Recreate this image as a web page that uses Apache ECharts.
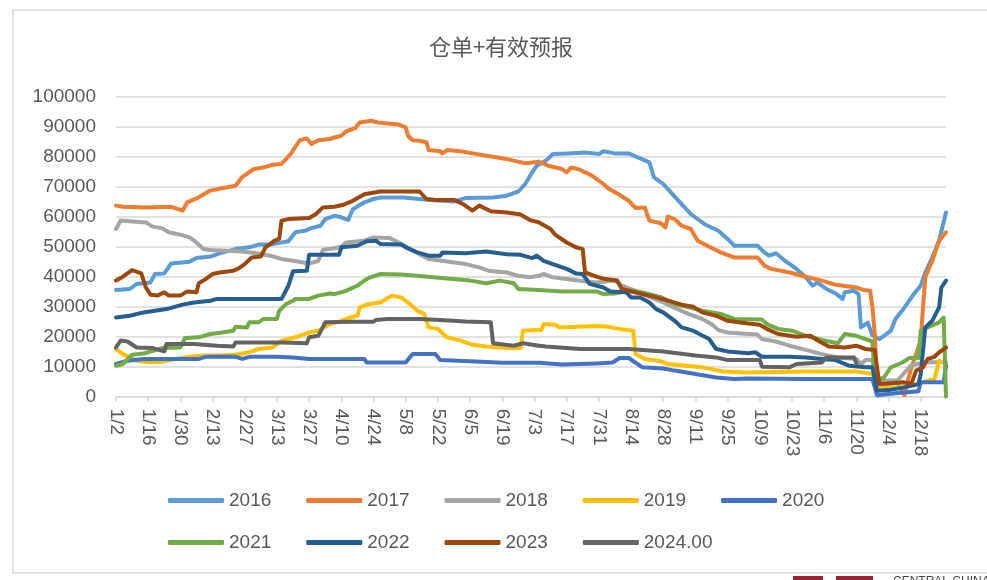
<!DOCTYPE html>
<html>
<head>
<meta charset="utf-8">
<script src="https://cdn.jsdelivr.net/npm/echarts@6/dist/echarts.min.js"></script>
<style>html,body{margin:0;padding:0;background:#fff;}#c{width:987px;height:580px;}</style>
</head>
<body>
<div id="c"></div>
<script>
// x categories: calendar days 1/2 .. 12/29; data points are [dayIndex, value]
const categories = [];
for (let t = Date.UTC(2023, 0, 2); t <= Date.UTC(2023, 11, 29); t += 86400000) {
  const d = new Date(t);
  categories.push((d.getUTCMonth() + 1) + '/' + d.getUTCDate());
}
const seriesNames = ['2016','2017','2018','2019','2020','2021','2022','2023','2024.00'];
const colors = ['#5B9BD5','#ED7D31','#A5A5A5','#FFC000','#4472C4','#70AD47','#255E91','#9E480E','#636363'];
const yTicks = { min: 0, max: 100000, interval: 10000 };

const s2016 = [[0,35600],[6,35900],[9,37600],[15,38100],[17,40900],[21,41100],[24,44400],[32,45000],[35,46200],[41,46700],[45,47800],[52,49200],[58,49800],[62,50700],[67,50700],[70,51100],[75,51800],[78,54800],[82,55300],[85,56200],[89,57000],[91,59200],[95,60300],[98,59800],[101,58900],[103,62500],[108,64800],[112,65900],[115,66400],[125,66400],[132,65900],[137,65600],[147,65100],[152,66200],[164,66400],[170,67000],[175,68400],[178,70900],[181,74800],[183,77000],[187,78700],[190,80900],[197,81100],[204,81400],[210,80900],[212,81800],[217,81100],[223,81100],[227,79800],[232,78100],[234,73100],[238,70900],[242,67500],[246,64200],[250,60900],[256,57500],[262,55300],[266,52600],[269,50300],[279,50300],[282,48100],[284,47000],[287,47800],[291,45300],[296,42600],[300,39800],[303,37000],[305,38100],[309,35900],[313,34400],[316,32600],[317,34800],[321,35300],[323,34200],[324,23100],[327,24700],[329,20500],[332,19200],[334,20300],[337,22000],[339,25900],[342,28700],[345,32000],[347,34200],[350,37000],[352,41400],[355,46400],[358,52000],[361,61400]];
const s2017 = [[0,63700],[3,63300],[13,63100],[24,63300],[29,62000],[31,64800],[35,66100],[41,68700],[46,69500],[52,70300],[55,73300],[60,75900],[64,76400],[68,77300],[72,77600],[76,80900],[78,83300],[80,85500],[83,86100],[85,84200],[88,85500],[93,85900],[95,86400],[98,87000],[100,88400],[104,89500],[106,91400],[111,92000],[114,91400],[118,91100],[123,90700],[126,89800],[127,87000],[129,85500],[132,85300],[135,84800],[136,82200],[141,81800],[142,81100],[144,82200],[150,81800],[155,81100],[161,80300],[170,79200],[178,77800],[184,78300],[188,77000],[194,75900],[196,74800],[198,76400],[201,75900],[207,73700],[212,70900],[214,69500],[219,67300],[223,65300],[226,62900],[230,63100],[232,58700],[237,57800],[239,56400],[240,60000],[243,59200],[246,57000],[250,55900],[253,52000],[258,50000],[263,48100],[269,46400],[279,46400],[282,43700],[285,42600],[293,41400],[300,40000],[307,38700],[313,37300],[322,36400],[325,35600],[328,35300],[329,29800],[330,20900],[331,5000],[340,4500],[343,500],[344,4200],[346,9800],[350,18700],[351,29800],[352,39800],[355,45300],[358,52000],[361,54800]];
const s2018 = [[0,55900],[2,58700],[13,58100],[16,56700],[20,56200],[23,54800],[28,54000],[32,53100],[35,51400],[38,49200],[41,48900],[55,48400],[61,47800],[67,47000],[72,45900],[77,45300],[84,44400],[88,45300],[90,49000],[95,49500],[98,50000],[100,51400],[108,52000],[112,53100],[119,52900],[123,51400],[128,49200],[132,47500],[136,45900],[144,45100],[152,44200],[158,43100],[162,42000],[170,41400],[175,40300],[180,39800],[184,40300],[186,40900],[190,39800],[196,39200],[201,38700],[209,38100],[217,38700],[220,37000],[226,35300],[232,33300],[238,31400],[243,29600],[249,27600],[255,25900],[259,24200],[262,22200],[266,21400],[275,20900],[279,20700],[281,19200],[287,18400],[293,17000],[300,15600],[307,14200],[314,13100],[322,12600],[324,10900],[326,12200],[329,12200],[331,5200],[340,5500],[343,8000],[346,10500],[352,11500],[361,11500]];
const s2019 = [[0,15900],[3,14200],[9,12000],[15,11500],[20,11600],[26,12600],[32,13300],[38,13700],[45,13700],[52,14000],[58,14800],[62,15900],[68,16400],[72,18700],[78,19800],[84,21400],[88,22000],[93,24200],[98,25300],[102,26400],[105,27000],[106,29800],[110,30900],[115,31400],[120,33700],[124,33100],[127,31400],[131,28700],[134,27600],[136,23100],[140,22600],[144,19800],[150,18700],[155,17300],[161,16700],[170,16200],[176,16200],[177,22000],[182,22200],[185,22200],[186,24200],[191,24000],[193,23100],[201,23300],[209,23600],[214,23300],[219,22600],[225,22000],[226,14200],[230,12600],[236,12000],[240,10900],[248,10300],[255,9800],[259,9200],[264,8400],[275,8100],[300,8400],[322,8400],[329,7600],[331,3500],[340,3000],[350,4500],[356,6000],[358,12000],[359,11600]];
const s2020 = [[0,10900],[5,12000],[12,12600],[36,12600],[39,13300],[52,13300],[55,12600],[58,13300],[70,13300],[77,13100],[84,12600],[108,12600],[109,11400],[126,11400],[129,14200],[139,14200],[141,12200],[154,11800],[168,11300],[184,11300],[194,10700],[209,11100],[216,11400],[219,12900],[223,12900],[229,9800],[238,9400],[243,8700],[252,7600],[261,6400],[269,5900],[275,6100],[300,5900],[329,5900],[331,500],[340,1200],[349,1800],[350,4800],[360,4800],[361,10500]];
const s2021 = [[0,10300],[3,10900],[7,14000],[12,14400],[20,16200],[28,16400],[30,19600],[36,19800],[41,20900],[46,21400],[51,22000],[52,23300],[57,23100],[58,24800],[62,24800],[64,25900],[70,25900],[71,28700],[74,30900],[77,32000],[78,32600],[84,32600],[88,33700],[93,34400],[95,34200],[100,35300],[105,37000],[108,38700],[110,39600],[115,40900],[124,40700],[132,40200],[144,39400],[154,38700],[161,37800],[167,38700],[173,37800],[175,35900],[184,35600],[194,35100],[209,35100],[212,34200],[217,34400],[224,35500],[230,34600],[237,33200],[243,30900],[255,28700],[263,27600],[269,25900],[281,25700],[283,24200],[288,22600],[294,22000],[300,20300],[307,18900],[314,17800],[317,20900],[322,20300],[326,19200],[329,18400],[330,5300],[334,6400],[337,9800],[342,11400],[345,12900],[349,12900],[350,22000],[353,23100],[358,24800],[360,26400],[361,0]];
const s2022 = [[0,26400],[6,27000],[12,28100],[22,29200],[29,30700],[34,31400],[41,32000],[44,32600],[72,32600],[75,37000],[77,41800],[83,42000],[84,47300],[97,47300],[98,49800],[105,50300],[109,51800],[113,52000],[115,50900],[124,50700],[126,49800],[131,48100],[136,47000],[141,47000],[142,48100],[152,47800],[161,48400],[170,47500],[176,47300],[181,46200],[183,47000],[186,45300],[190,44200],[196,42600],[200,41100],[203,40900],[206,37600],[212,36400],[215,35100],[222,34800],[224,33100],[228,33100],[232,31400],[235,29200],[238,28100],[243,25300],[246,23100],[251,22000],[258,19200],[261,15900],[266,15100],[275,14500],[278,14800],[281,13300],[293,13300],[300,13100],[307,12600],[313,12200],[319,10300],[326,9800],[329,9800],[331,2000],[336,2200],[343,3100],[349,4200],[350,7600],[352,23100],[355,25300],[358,29800],[359,36400],[361,38700]];
const s2023 = [[0,38700],[3,40000],[7,42200],[11,41100],[13,36400],[15,34000],[18,33700],[21,34800],[23,33700],[28,33700],[31,35100],[35,34800],[36,37800],[39,39200],[42,40900],[45,41400],[51,42000],[53,42600],[56,44200],[59,46400],[63,46700],[65,49800],[69,52000],[71,52600],[72,58700],[75,59200],[84,59600],[87,60900],[90,63100],[95,63300],[99,64000],[103,65300],[108,67500],[115,68400],[132,68400],[135,65900],[139,65600],[147,65600],[151,64200],[155,62000],[158,63700],[163,61800],[170,61400],[176,60700],[180,58900],[184,58100],[189,55900],[191,54000],[196,51400],[200,49800],[203,49200],[204,41400],[209,40000],[213,39200],[218,38700],[220,35900],[223,35300],[229,34200],[235,33100],[240,32000],[246,30700],[251,30000],[255,28100],[261,27000],[266,25300],[275,24400],[280,24000],[283,22600],[288,20900],[296,20000],[302,20300],[306,18400],[310,16700],[317,16400],[322,17000],[326,15900],[330,15600],[332,4200],[336,4400],[342,4800],[346,4400],[348,8700],[351,9800],[353,12600],[356,13300],[358,14800],[361,16400]];
const s2024 = [[0,16400],[2,18700],[5,18400],[9,16400],[16,16200],[21,15100],[22,17600],[34,17600],[44,17000],[51,16700],[52,18100],[72,18100],[83,17800],[84,19800],[88,20300],[91,24800],[102,25000],[112,25000],[113,25600],[118,25900],[132,25900],[141,25600],[152,25100],[163,24800],[164,17800],[173,17000],[177,17800],[184,17000],[187,16700],[202,15900],[223,15900],[238,15100],[252,13700],[261,13100],[266,12200],[280,12200],[281,10000],[293,9800],[296,10900],[307,11400],[309,13100],[321,13100],[322,11100]];
const seriesValues = [s2016, s2017, s2018, s2019, s2020, s2021, s2022, s2023, s2024];

const FONT = '"Liberation Sans", Arial, sans-serif';
const TXT = '#595959';
const chart = echarts.init(document.getElementById('c'), null, { renderer: 'canvas' });
const legendBase = {
  orient: 'horizontal', left: 168, itemWidth: 56, itemHeight: 5, icon: 'roundRect',
  itemGap: 35, itemTextGap: 3, padding: 0,
  textStyle: { fontSize: 19, color: TXT, fontFamily: FONT }
};
chart.setOption({
  animation: false,
  backgroundColor: '#ffffff',
  color: colors,
  graphic: [
    { type: 'rect', z: -10, silent: true, shape: { x: 13, y: 10, width: 1000, height: 563 },
      style: { fill: 'none', stroke: '#D9D9D9', lineWidth: 1.5 } },
    { type: 'text', x: 501, y: 47, style: { text: '仓单+有效预报', fill: TXT,
      font: '22px "Noto Sans CJK SC", sans-serif', textAlign: 'center', textVerticalAlign: 'middle' } },
    { type: 'rect', shape: { x: 793, y: 576, width: 30, height: 6 }, style: { fill: '#9B2335' } },
    { type: 'rect', shape: { x: 836, y: 576, width: 37, height: 6 }, style: { fill: '#9B2335' } },
    { type: 'text', x: 893, y: 576, style: { text: 'CENTRAL CHINA', fill: '#444', font: '12px "Liberation Sans", sans-serif' } }
  ],
  legend: [
    Object.assign({}, legendBase, { top: 491, data: seriesNames.slice(0, 5) }),
    Object.assign({}, legendBase, { top: 533, data: seriesNames.slice(5) })
  ],
  grid: { left: 116, right: 41, top: 96.7, bottom: 183.3, containLabel: false },
  xAxis: {
    type: 'category', data: categories, boundaryGap: false,
    axisLine: { lineStyle: { color: '#D9D9D9', width: 1.5 } },
    axisTick: { show: true, interval: 13, length: 5, lineStyle: { color: '#D9D9D9', width: 1.5 } },
    axisLabel: { interval: 13, rotate: -90, margin: 12, fontSize: 19, color: TXT, fontFamily: FONT },
    splitLine: { show: false }
  },
  yAxis: {
    type: 'value', min: yTicks.min, max: yTicks.max, interval: yTicks.interval,
    axisLine: { show: false }, axisTick: { show: false },
    axisLabel: { fontSize: 19, color: TXT, fontFamily: FONT, margin: 20, formatter: v => String(v) },
    splitLine: { lineStyle: { color: '#D9D9D9', width: 1.5 } }
  },
  series: seriesNames.map((name, i) => ({
    name: name, type: 'line', data: seriesValues[i], showSymbol: false, symbol: 'none',
    lineStyle: { width: 4, color: colors[i], cap: 'round', join: 'round' },
    itemStyle: { color: colors[i] }
  }))
});
</script>
</body>
</html>
